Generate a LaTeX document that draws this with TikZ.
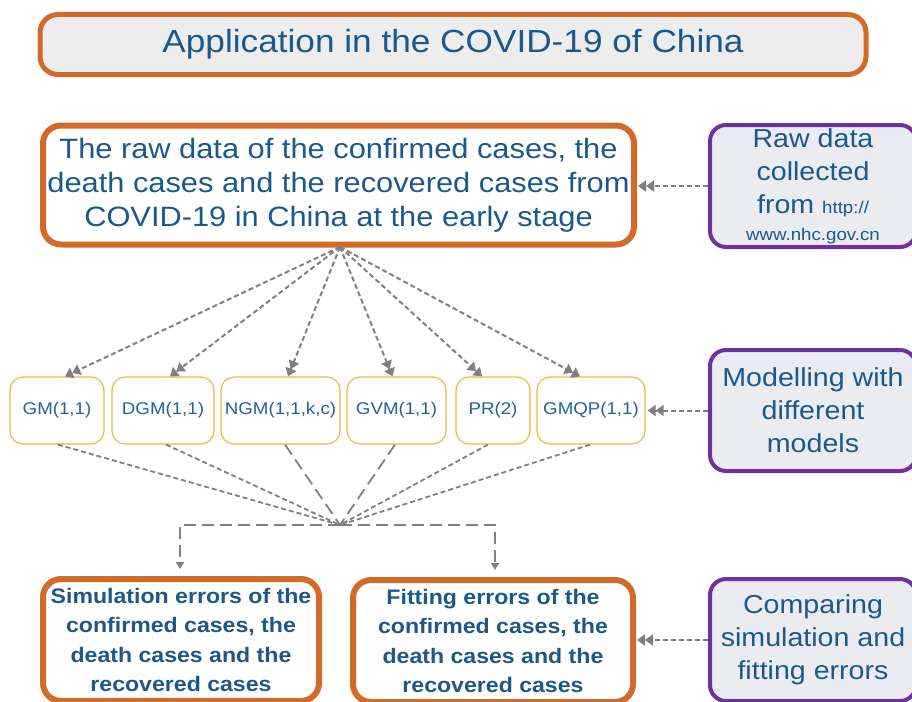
\documentclass[tikz,border=0pt]{standalone}
\usepackage{fontspec}
\setmainfont[FakeStretch=1.1]{Liberation Sans}
\usetikzlibrary{arrows.meta}
\definecolor{orng}{RGB}{210,106,42}
\definecolor{txtblue}{RGB}{28,88,138}
\definecolor{mtxt}{RGB}{36,98,156}
\definecolor{purp}{RGB}{112,48,160}
\definecolor{pfill}{RGB}{234,236,242}
\definecolor{tfill}{RGB}{237,237,237}
\definecolor{mborder}{RGB}{240,184,64}
\definecolor{arrgray}{RGB}{128,128,128}
\begin{document}
\begin{tikzpicture}[x=1pt,y=-1pt,
  titlebox/.style={draw=orng, line width=5pt, rounded corners=18pt, fill=tfill, text=txtblue, align=center, inner sep=0pt, font=\fontsize{32}{34}\selectfont},
  orbox/.style={draw=orng, line width=6pt, rounded corners=18pt, fill=white, text=txtblue, align=center, inner sep=0pt},
  purbox/.style={draw=purp, line width=4pt, rounded corners=16pt, fill=pfill, text=txtblue, align=center, inner sep=0pt, minimum width=206pt, minimum height=122pt, font=\fontsize{26}{33}\selectfont},
  mbox/.style={draw=mborder, line width=1.2pt, rounded corners=13pt, fill=white, text=mtxt, align=center, inner sep=0pt, minimum height=67pt, font=\fontsize{17}{20}\selectfont},
  garrow/.style={draw=arrgray, line width=2pt, dash pattern=on 5pt off 3pt, -{Triangle[length=8pt,width=11pt]Triangle[length=8pt,width=11pt]}},
  gline/.style={draw=arrgray, line width=1.8pt, dash pattern=on 5pt off 3pt},
  longdash/.style={draw=arrgray, line width=1.8pt, dash pattern=on 12pt off 6pt},
  downarr/.style={draw=arrgray, line width=1.8pt, dash pattern=on 12pt off 6pt, -{Triangle[length=7pt,width=8pt]}}
]
\useasboundingbox (0,0) rectangle (912,701);
\clip (0,0) rectangle (912,701);

\node[titlebox, minimum width=826pt, minimum height=60pt] (title) at (453,44.5) {Application in the COVID-19 of China};

\node[orbox, minimum width=591pt, minimum height=119pt, font=\fontsize{28}{34}\selectfont] (raw) at (338.5,185)
  {The raw data of the confirmed cases, the\\death cases and the recovered cases from\\COVID-19 in China at the early stage};

\node[purbox] (p1) at (813,186) {Raw data\\collected\\from {\fontsize{17}{20}\selectfont http://}\\[-6pt]{\fontsize{17}{20}\selectfont www.nhc.gov.cn}};
\node[purbox, minimum height=121pt] (p2) at (813,410.5) {Modelling with\\different\\models};
\node[purbox] (p3) at (813,640) {Comparing\\simulation and\\fitting errors};

\node[mbox, minimum width=94pt] (m1) at (57,410.5) {GM(1,1)};
\node[mbox, minimum width=102pt] (m2) at (163,410.5) {DGM(1,1)};
\node[mbox, minimum width=119pt] (m3) at (280.5,410.5) {NGM(1,1,k,c)};
\node[mbox, minimum width=99pt] (m4) at (396.5,410.5) {GVM(1,1)};
\node[mbox, minimum width=74pt] (m5) at (493,410.5) {PR(2)};
\node[mbox, minimum width=108pt] (m6) at (591,410.5) {GMQP(1,1)};

\node[orbox, minimum width=276pt, minimum height=122pt, font=\bfseries\fontsize{21}{29.5}\selectfont] (sim) at (181,640)
  {Simulation errors of the\\confirmed cases, the\\death cases and the\\recovered cases};
\node[orbox, minimum width=280pt, minimum height=122pt, font=\bfseries\fontsize{21}{29.5}\selectfont] (fit) at (493,641)
  {Fitting errors of the\\confirmed cases, the\\death cases and the\\recovered cases};

\coordinate (hubA) at (340,247);
\coordinate (hubB) at (340,525);

\draw[garrow] (hubA) -- ([xshift=8pt]m1.north);
\draw[garrow] (hubA) -- ([xshift=7pt]m2.north);
\draw[garrow] (hubA) -- ([xshift=7.5pt]m3.north);
\draw[garrow] (hubA) -- ([xshift=-4pt]m4.north);
\draw[garrow] (hubA) -- ([xshift=-11pt]m5.north);
\draw[garrow] (hubA) -- ([xshift=-11pt]m6.north);

\draw[gline] ([xshift=1pt]m1.south) -- (hubB);
\draw[gline] ([xshift=3pt]m2.south) -- (hubB);
\draw[longdash] ([xshift=4.5pt]m3.south) -- (hubB);
\draw[longdash] ([xshift=-1.5pt]m4.south) -- (hubB);
\draw[gline] ([xshift=-5pt]m5.south) -- (hubB);
\draw[gline] ([xshift=-1pt]m6.south) -- (hubB);

\draw[downarr, shorten >=7pt] (hubB) -| ([xshift=-1pt]sim.north);
\draw[downarr, shorten >=7pt] (hubB) -| ([xshift=2pt]fit.north);

\draw[garrow, shorten >=1pt] (p1.west) -- (raw.east |- p1.west);
\draw[garrow, shorten >=2pt] (p2.west) -- (m6.east |- p2.west);
\draw[garrow, shorten >=1pt] (p3.west) -- (fit.east |- p3.west);
\end{tikzpicture}
\end{document}
